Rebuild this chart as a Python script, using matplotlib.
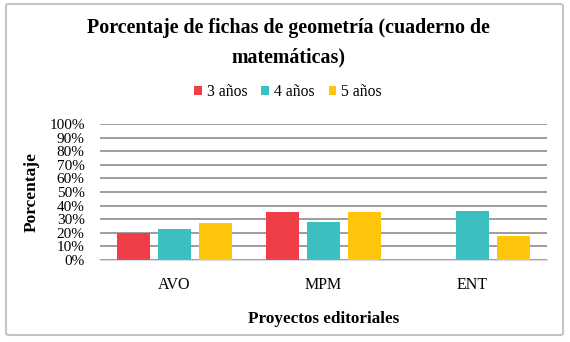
import matplotlib.pyplot as plt
import numpy as np
from matplotlib.patches import FancyBboxPatch

# datos
proyectos = ['AVO', 'MPM', 'ENT']
tres_anos = [20, 35, 0]
cuatro_anos = [23, 28, 36]
cinco_anos = [27, 35, 18]
series = ['3 años', '4 años', '5 años']
colores = ['#EF3E48', '#3BBFC0', '#FFC40C']

plt.rcParams['font.family'] = ['Liberation Serif', 'DejaVu Serif']

fig = plt.figure(figsize=(5.7, 3.42), dpi=100)
ax = fig.add_axes([0.1754, 0.2398, 0.7842, 0.3976])

# marco del grafico
marco = FancyBboxPatch((6 / 570, 1 - 335 / 342), 557 / 570, 331 / 342,
                       boxstyle='round,pad=0,rounding_size=0.005',
                       transform=fig.transFigure, facecolor='none',
                       edgecolor='#C4C4C4', linewidth=1.5)
fig.patches.append(marco)

x = np.arange(len(proyectos))
ancho = 0.22
paso = 0.275
for i, (vals, nombre, c) in enumerate(zip([tres_anos, cuatro_anos, cinco_anos], series, colores)):
    ax.bar(x + (i - 1) * paso, vals, ancho, color=c, label=nombre, zorder=3)

ax.set_xlim(-0.5, 2.5)
ax.set_ylim(0, 100)
ax.set_yticks(range(0, 101, 10))
ax.set_yticklabels([f'{v}%' for v in range(0, 101, 10)], fontsize=11)
ax.set_xticks(x)
ax.set_xticklabels(proyectos, fontsize=11.5)
ax.tick_params(axis='y', length=0, pad=11)
ax.tick_params(axis='x', length=0, pad=12)
ax.grid(axis='y', color='#8C8C8C', linewidth=1.2, zorder=0)
for s in ['top', 'right', 'left']:
    ax.spines[s].set_visible(False)
ax.spines['bottom'].set_color('#D9DCE6')
ax.spines['bottom'].set_zorder(4)

ax.set_ylabel('Porcentaje', fontsize=12.5, fontweight='bold', labelpad=7)
ax.set_xlabel('Proyectos editoriales', fontsize=12.3, fontweight='bold', labelpad=13)

fig.text(0.506, 1 - 43 / 342, 'Porcentaje de fichas de geometría (cuaderno de\nmatemáticas)',
         ha='center', va='center', fontsize=14.4, fontweight='bold', linespacing=1.6)

ax.legend(loc='center', bbox_to_anchor=(0.505, 1 - 92 / 342), bbox_transform=fig.transFigure,
          ncol=3, frameon=False, fontsize=11.3, handlelength=0.5, handleheight=0.5,
          handletextpad=0.3, columnspacing=0.9)

plt.savefig('out.png', dpi=100)
